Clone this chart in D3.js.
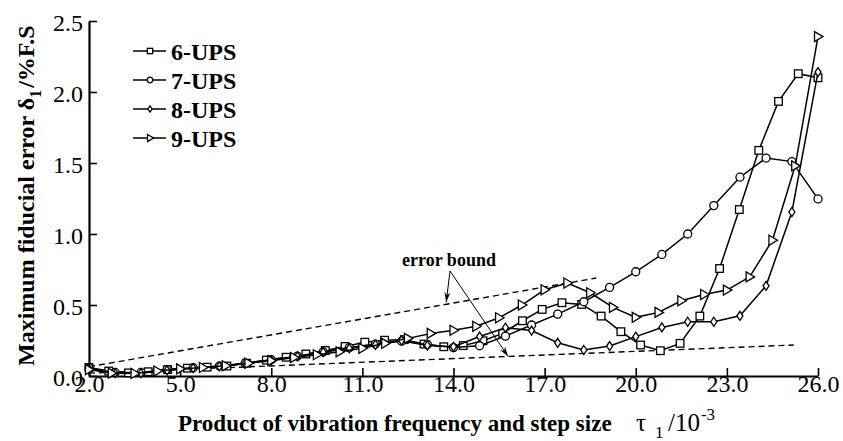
<!DOCTYPE html>
<html>
<head>
<meta charset="utf-8">
<script src="https://cdn.jsdelivr.net/npm/d3@7"></script>
<style>
  body { margin: 0; background: #fff; }
  svg { display: block; font-family: "Liberation Serif", "Times New Roman", serif; }
</style>
</head>
<body>
<svg id="chart" width="843" height="441"></svg>
<script>
// x positions (tau_1 / 10^-3) for each series
const xSquare = [2.00, 2.65, 3.30, 3.95, 4.59, 5.24, 5.89, 6.54, 7.19, 7.84, 8.49, 9.14, 9.78, 10.43, 11.08, 11.73, 12.38, 13.03, 13.68, 14.32, 14.97, 15.62, 16.27, 16.92, 17.57, 18.22, 18.86, 19.51, 20.16, 20.81, 21.46, 22.11, 22.76, 23.41, 24.05, 24.70, 25.35, 26.00];
const xRound = [2.00, 2.86, 3.71, 4.57, 5.43, 6.29, 7.14, 8.00, 8.86, 9.71, 10.57, 11.43, 12.29, 13.14, 14.00, 14.86, 15.71, 16.57, 17.43, 18.29, 19.14, 20.00, 20.86, 21.71, 22.57, 23.43, 24.29, 25.14, 26.00];
const xTri = [2.00, 2.75, 3.50, 4.25, 5.00, 5.75, 6.50, 7.25, 8.00, 8.75, 9.50, 10.25, 11.00, 11.75, 12.50, 13.25, 14.00, 14.75, 15.50, 16.25, 17.00, 17.75, 18.50, 19.25, 20.00, 20.75, 21.50, 22.25, 23.00, 23.75, 24.50, 25.25, 26.00];

// maximum fiducial error, %F.S
const ups6 = [0.060, 0.035, 0.022, 0.030, 0.045, 0.055, 0.062, 0.070, 0.090, 0.112, 0.132, 0.155, 0.180, 0.208, 0.238, 0.252, 0.256, 0.225, 0.206, 0.214, 0.248, 0.300, 0.389, 0.469, 0.516, 0.504, 0.422, 0.312, 0.218, 0.178, 0.230, 0.422, 0.757, 1.172, 1.589, 1.934, 2.129, 2.100];
const ups7 = [0.055, 0.025, 0.025, 0.045, 0.058, 0.070, 0.090, 0.115, 0.140, 0.170, 0.200, 0.225, 0.245, 0.222, 0.200, 0.213, 0.281, 0.359, 0.436, 0.523, 0.624, 0.734, 0.856, 1.000, 1.200, 1.400, 1.535, 1.510, 1.247];
const ups8 = [0.050, 0.020, 0.020, 0.040, 0.055, 0.068, 0.088, 0.112, 0.138, 0.168, 0.195, 0.220, 0.250, 0.215, 0.206, 0.278, 0.340, 0.320, 0.234, 0.183, 0.211, 0.277, 0.342, 0.382, 0.382, 0.424, 0.635, 1.155, 2.140];
const ups9 = [0.045, 0.020, 0.018, 0.035, 0.050, 0.060, 0.072, 0.090, 0.108, 0.130, 0.150, 0.170, 0.195, 0.230, 0.265, 0.300, 0.322, 0.350, 0.410, 0.500, 0.607, 0.655, 0.586, 0.483, 0.413, 0.448, 0.530, 0.574, 0.605, 0.698, 0.956, 1.480, 2.390];

const seriesNames = ["6-UPS", "7-UPS", "8-UPS", "9-UPS"];
const xTicks = [2, 5, 8, 11, 14, 17, 20, 23, 26];
const yTicks = [0, 0.5, 1.0, 1.5, 2.0, 2.5];

// dashed error bounds [x, y]
const upperBound = [[2.0, 0.065], [18.7, 0.69]];
const lowerBound = [[2.0, 0.02], [25.2, 0.218]];

const svg = d3.select('#chart');
const x = d3.scaleLinear().domain([2, 26]).range([89, 818]);
const y = d3.scaleLinear().domain([0, 2.5]).range([376, 21]);

const series = [
    {name: seriesNames[0], xs: xSquare, ys: ups6, shape: 'square'},
    {name: seriesNames[1], xs: xRound, ys: ups7, shape: 'circle'},
    {name: seriesNames[2], xs: xRound, ys: ups8, shape: 'diamond'},
    {name: seriesNames[3], xs: xTri, ys: ups9, shape: 'triangle'}
];

// marker drawing, s = scale
const drawMarker = (g, shape, s) => {
    if (shape === 'square') {
        g.append('rect').attr('x', -3.8 * s).attr('y', -3.8 * s)
            .attr('width', 7.6 * s).attr('height', 7.6 * s);
    } else if (shape === 'circle') {
        g.append('circle').attr('r', 4 * s);
    } else if (shape === 'diamond') {
        g.append('path').attr('d', `M0,${-4.5 * s}L${3 * s},0L0,${4.5 * s}L${-3 * s},0Z`);
    } else {
        g.append('path').attr('d', `M${-3.5 * s},${-5 * s}L${5 * s},0L${-3.5 * s},${5 * s}Z`);
    }
    g.selectAll('*').attr('fill', '#fff').attr('stroke', '#000').attr('stroke-width', 1.3);
};

// axes
const xAxis = svg.append('g').attr('transform', 'translate(0,376)')
    .call(d3.axisBottom(x).tickValues(xTicks).tickFormat(d3.format('.1f')).tickSizeInner(-8).tickSizeOuter(0));
xAxis.selectAll('text').attr('y', 16).attr('dy', 0).attr('font-size', 24).attr('fill', '#000')
    .attr('font-family', '"Liberation Serif", serif');

const yAxis = svg.append('g').attr('transform', 'translate(89,0)')
    .call(d3.axisLeft(y).tickValues(yTicks).tickFormat(d3.format('.1f')).tickSizeInner(-8).tickSizeOuter(0));
yAxis.selectAll('text').attr('x', -6).attr('dy', 0).attr('y', 9).attr('font-size', 24).attr('fill', '#000')
    .attr('font-family', '"Liberation Serif", serif');

svg.selectAll('.domain').attr('stroke', '#000').attr('stroke-width', 2.2);
svg.selectAll('.tick line').attr('stroke', '#000').attr('stroke-width', 1.6);

// error bounds
const boundLine = d3.line().x(d => x(d[0])).y(d => y(d[1]));
[upperBound, lowerBound].forEach(b => {
    svg.append('path').attr('d', boundLine(b))
        .attr('fill', 'none').attr('stroke', '#000').attr('stroke-width', 1.4)
        .attr('stroke-dasharray', '6,4');
});

// series lines + markers
series.forEach(s => {
    const pts = s.xs.map((v, i) => [v, s.ys[i]]);
    svg.append('path').attr('d', d3.line().x(d => x(d[0])).y(d => y(d[1]))(pts))
        .attr('fill', 'none').attr('stroke', '#000').attr('stroke-width', 1.5);
    pts.forEach(p => {
        const g = svg.append('g').attr('transform', `translate(${x(p[0])},${y(p[1])})`);
        drawMarker(g, s.shape, 1);
    });
});

// annotation
const defs = svg.append('defs');
defs.append('marker')
    .attr('id', 'arrowhead')
    .attr('viewBox', '0 -3 10 6')
    .attr('refX', 10).attr('refY', 0)
    .attr('markerWidth', 10).attr('markerHeight', 6)
    .attr('markerUnits', 'userSpaceOnUse')
    .attr('orient', 'auto')
    .append('path').attr('d', 'M0,-3L10,0L0,3L3,0Z').attr('fill', '#000');

svg.append('text').attr('x', 449).attr('y', 266).attr('text-anchor', 'middle')
    .attr('font-size', 18).attr('font-weight', 'bold').text('error bound');
[[13.76, 0.52], [15.8, 0.137]].forEach(t => {
    svg.append('line').attr('x1', 450).attr('y1', 271)
        .attr('x2', x(t[0])).attr('y2', y(t[1]))
        .attr('stroke', '#000').attr('stroke-width', 1)
        .attr('marker-end', 'url(#arrowhead)');
});

// legend
const legend = svg.append('g');
series.forEach((s, i) => {
    const ly = 51 + i * 29;
    legend.append('line').attr('x1', 133).attr('x2', 166).attr('y1', ly).attr('y2', ly)
        .attr('stroke', '#000').attr('stroke-width', 1.5);
    drawMarker(legend.append('g').attr('transform', `translate(150,${ly})`), s.shape, 0.7);
    legend.append('text').attr('x', 171).attr('y', ly + 9)
        .attr('font-size', 24).attr('font-weight', 'bold').text(s.name);
});

// axis titles
const xt = svg.append('text').attr('x', 178).attr('y', 431)
    .attr('font-size', 23).attr('font-weight', 'bold');
xt.append('tspan').text('Product of vibration frequency and step size');
xt.append('tspan').attr('x', 636).attr('font-size', 25).attr('font-weight', 'normal').text('τ');
xt.append('tspan').attr('x', 655).attr('font-size', 17).attr('dy', 7).attr('font-weight', 'normal').text('1');
xt.append('tspan').attr('x', 668).attr('dy', -7).attr('font-size', 25).attr('font-weight', 'normal').text('/10');
xt.append('tspan').attr('font-size', 17).attr('dy', -11).attr('dx', 1).attr('font-weight', 'normal').text('-3');

const yt = svg.append('text').attr('transform', 'translate(34,366) rotate(-90)')
    .attr('font-size', 24).attr('font-weight', 'bold');
yt.append('tspan').text('Maximum fiducial error δ');
yt.append('tspan').attr('font-size', 16).attr('dy', 7).text('1');
yt.append('tspan').attr('dy', -7).attr('dx', 2).text('/%F.S');
</script>
</body>
</html>
